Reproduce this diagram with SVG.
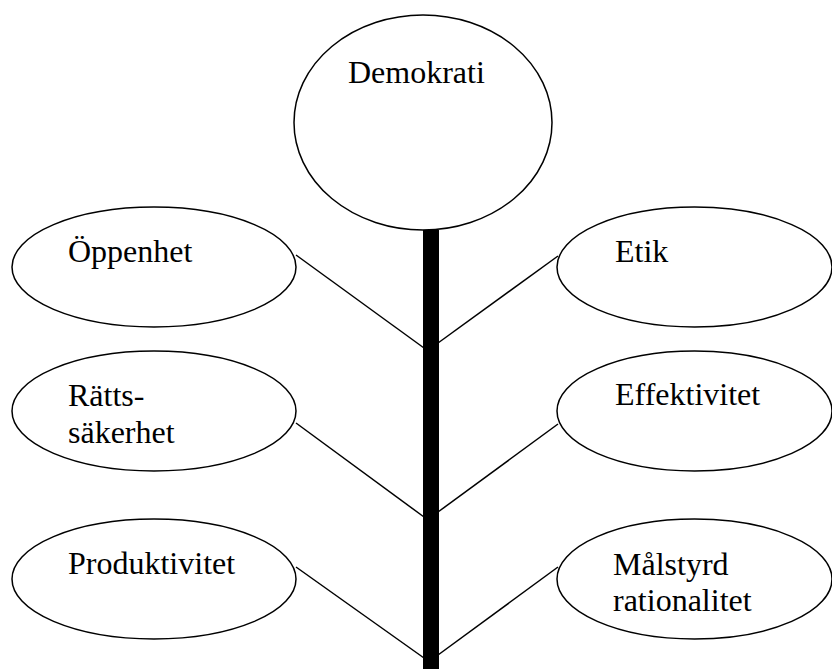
<svg xmlns="http://www.w3.org/2000/svg" width="832" height="669" viewBox="0 0 832 669">
<style>
.n{fill:#fff;stroke:#000;stroke-width:1.5}
.t{font-family:"Liberation Serif","Times New Roman",serif;font-size:32px;fill:#000}
.c{stroke:#000;stroke-width:1.5;fill:none}
</style>
<rect width="832" height="669" fill="#fff"/>
<g id="connectors">
<line class="c" x1="296" y1="255" x2="424" y2="348"/>
<line class="c" x1="438" y1="343" x2="558" y2="256"/>
<line class="c" x1="296" y1="423" x2="424" y2="517"/>
<line class="c" x1="438" y1="512" x2="558" y2="424"/>
<line class="c" x1="296" y1="567" x2="424" y2="658"/>
<line class="c" x1="438" y1="655" x2="558" y2="567"/>
<rect x="423" y="230" width="16" height="439" fill="#000"/>
</g>
<g id="demokrati">
<ellipse class="n" cx="423" cy="122.5" rx="129" ry="107.5"/>
<text class="t" x="348" y="83">Demokrati</text>
</g>
<g id="oppenhet">
<ellipse class="n" cx="154" cy="267" rx="142" ry="60"/>
<text class="t" x="68" y="262">Öppenhet</text>
</g>
<g id="etik">
<ellipse class="n" cx="694.5" cy="267" rx="137.5" ry="60"/>
<text class="t" x="615" y="262">Etik</text>
</g>
<g id="rattssakerhet">
<ellipse class="n" cx="154" cy="411" rx="142" ry="60"/>
<text class="t" x="68" y="406">Rätts-</text>
<text class="t" x="68" y="443">säkerhet</text>
</g>
<g id="effektivitet">
<ellipse class="n" cx="694.5" cy="411" rx="137.5" ry="60"/>
<text class="t" x="615" y="405">Effektivitet</text>
</g>
<g id="produktivitet">
<ellipse class="n" cx="154" cy="579" rx="142" ry="60"/>
<text class="t" x="68" y="574">Produktivitet</text>
</g>
<g id="malstyrd">
<ellipse class="n" cx="694.5" cy="579" rx="137.5" ry="60"/>
<text class="t" x="613" y="575">Målstyrd</text>
<text class="t" x="613" y="611">rationalitet</text>
</g>
</svg>
